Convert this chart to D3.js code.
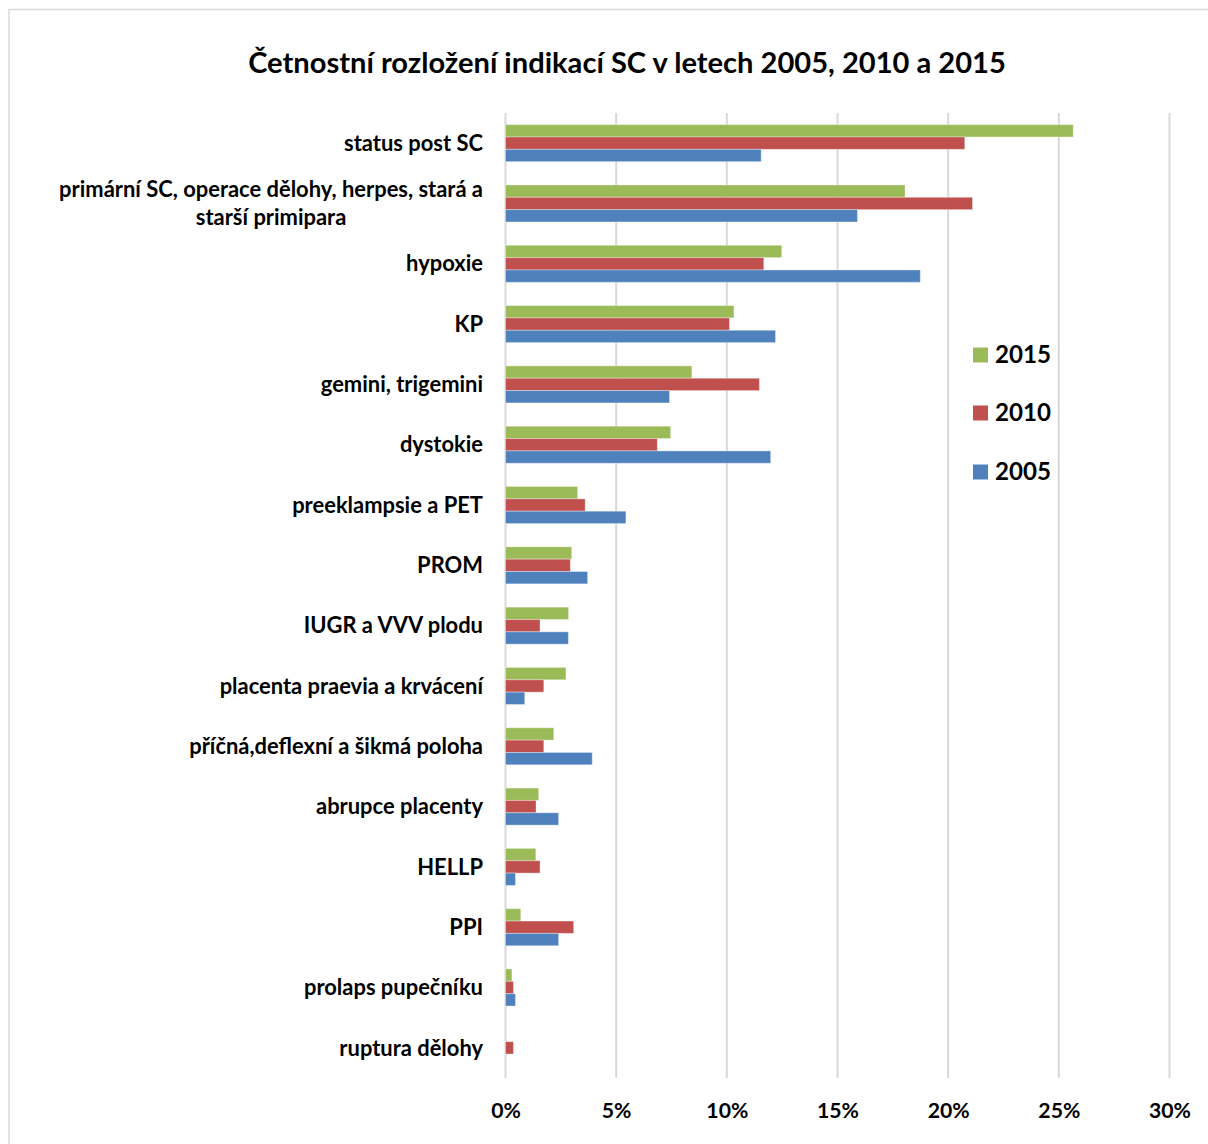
<!DOCTYPE html>
<html>
<head>
<meta charset="utf-8">
<script src="https://cdn.jsdelivr.net/npm/d3@7"></script>
<style>
  html, body { margin: 0; padding: 0; background: #fff; }
  svg { display: block; }
  text { font-family: Lato, "Open Sans", sans-serif; font-weight: bold; fill: #000; }
</style>
</head>
<body>
<svg id="chart" width="1208" height="1144"></svg>
<script>
const title = "Četnostní rozložení indikací SC v letech 2005, 2010 a 2015";
const categories = [
  "status post SC",
  "primární SC, operace dělohy, herpes, stará a|starší primipara",
  "hypoxie",
  "KP",
  "gemini, trigemini",
  "dystokie",
  "preeklampsie a PET",
  "PROM",
  "IUGR a VVV plodu",
  "placenta praevia a krvácení",
  "příčná,deflexní a šikmá poloha",
  "abrupce placenty",
  "HELLP",
  "PPI",
  "prolaps pupečníku",
  "ruptura dělohy"
];
const seriesNames = ["2015", "2010", "2005"];
const values2015 = [25.65, 18.05, 12.48, 10.32, 8.42, 7.46, 3.26, 2.99, 2.85, 2.73, 2.18, 1.50, 1.37, 0.69, 0.29, 0];
const values2010 = [20.75, 21.1, 11.67, 10.12, 11.47, 6.86, 3.6, 2.93, 1.56, 1.73, 1.73, 1.38, 1.56, 3.08, 0.36, 0.36];
const values2005 = [11.55, 15.9, 18.74, 12.2, 7.41, 11.98, 5.44, 3.71, 2.84, 0.87, 3.92, 2.40, 0.45, 2.40, 0.45, 0];
const colors = ["#9BBB59", "#C0504D", "#4F81BD"];
const xTicks = [0, 5, 10, 15, 20, 25, 30];

const seriesValues = [values2015, values2010, values2005];

const svg = d3.select("#chart");

// chart border
svg.append("rect")
  .attr("x", 9).attr("y", 9.5)
  .attr("width", 1300).attr("height", 1300)
  .attr("fill", "#fff").attr("stroke", "#D9D9D9").attr("stroke-width", 1.5);

// helper to fit text width
function fitFont(sel, targetWidth, base) {
  sel.style("font-size", base + "px");
  const w = sel.node().getComputedTextLength();
  const s = base * targetWidth / w;
  sel.style("font-size", s + "px");
  return s;
}

// title
const t = svg.append("text")
  .attr("x", 627).attr("y", 73)
  .attr("text-anchor", "middle")
  .text(title);
fitFont(t, 758, 27);

const x = d3.scaleLinear().domain([0, 30]).range([505.5, 1169.5]);
const y = d3.scaleBand().domain(categories).range([113, 1078]).paddingInner(0.386).paddingOuter(0.193);
const ySub = d3.scaleBand().domain(seriesNames).range([0, y.bandwidth()]);

// gridlines
svg.append("g")
  .selectAll("line")
  .data(xTicks)
  .join("line")
  .attr("x1", d => x(d)).attr("x2", d => x(d))
  .attr("y1", 113).attr("y2", 1078)
  .attr("stroke", "#D9D9D9").attr("stroke-width", 2);

// bars
const groups = svg.append("g")
  .selectAll("g")
  .data(categories)
  .join("g")
  .attr("transform", d => `translate(0,${y(d)})`);

groups.selectAll("rect")
  .data((d, i) => seriesNames.map((s, k) => ({ s, k, v: seriesValues[k][i] })))
  .join("rect")
  .filter(d => d.v > 0)
  .attr("x", x(0))
  .attr("y", d => ySub(d.s))
  .attr("width", d => x(d.v) - x(0))
  .attr("height", ySub.bandwidth())
  .attr("fill", d => colors[d.k])
  .attr("stroke", "rgba(255,255,255,0.35)")
  .attr("stroke-width", 1);

// x axis labels
const xAxis = d3.axisBottom(x).tickValues(xTicks).tickFormat(d => d + "%").tickSize(0).tickPadding(0);
const xg = svg.append("g").attr("transform", "translate(0,1103)").call(xAxis);
xg.select(".domain").remove();
xg.selectAll("text").attr("fill", "#000").style("font-family", "Lato, sans-serif").style("font-weight", "bold");
// size tick labels
const tickSel = xg.selectAll("text");
let tickSize = 20;
{
  const last = xg.selectAll("text").filter(d => d === 30);
  last.style("font-size", "20px");
  const w = last.node().getComputedTextLength();
  tickSize = 20 * 42 / w;
  tickSel.style("font-size", tickSize + "px");
}

// y labels
const labelSize = (() => {
  const tmp = svg.append("text").text(categories[0]).style("font-size", "20px");
  const w = tmp.node().getComputedTextLength();
  tmp.remove();
  return 20 * 139 / w;
})();

const yg = svg.append("g");
categories.forEach(c => {
  const lines = c.split("|");
  const cy = y(c) + y.bandwidth() / 2;
  if (lines.length === 1) {
    yg.append("text")
      .attr("x", 483).attr("y", cy)
      .attr("dy", "0.35em")
      .attr("text-anchor", "end")
      .style("font-size", labelSize + "px")
      .text(lines[0]);
  } else {
    const txt = yg.append("text").style("font-size", labelSize + "px");
    const tmp = txt.append("tspan").text(lines[0]);
    const w0 = tmp.node().getComputedTextLength();
    tmp.remove();
    const center = 483 - w0 / 2;
    lines.forEach((l, i) => {
      txt.append("tspan")
        .attr("x", center)
        .attr("y", cy + (i - (lines.length - 1) / 2) * 28)
        .attr("dy", "0.35em")
        .attr("text-anchor", "middle")
        .text(l);
    });
  }
});

// legend
const legend = svg.append("g");
const legendY = [355, 413, 472];
seriesNames.forEach((s, i) => {
  legend.append("rect")
    .attr("x", 973).attr("y", legendY[i] - 7.5)
    .attr("width", 15).attr("height", 15)
    .attr("fill", colors[i]);
  const lt = legend.append("text")
    .attr("x", 995).attr("y", legendY[i])
    .attr("dy", "0.35em")
    .text(s);
  fitFont(lt, 56, 24);
});
</script>
</body>
</html>
